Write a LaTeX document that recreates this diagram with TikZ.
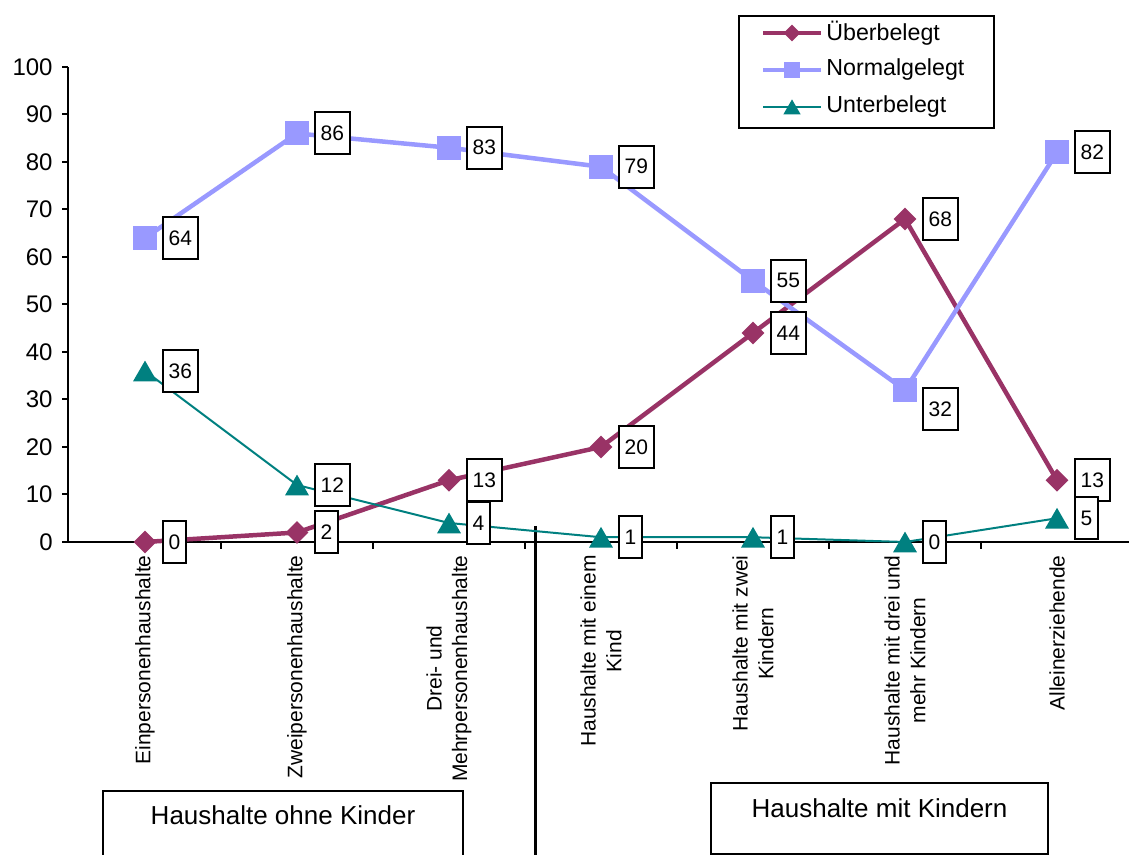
\documentclass[tikz,border=0pt]{standalone}
\usepackage{fontspec}
\setmainfont{Liberation Sans}
\usetikzlibrary{shapes,arrows,positioning,calc}
\definecolor{ueber}{RGB}{153,51,102}
\definecolor{normal}{RGB}{153,153,255}
\definecolor{unter}{RGB}{0,128,128}

\begin{document}
\begin{tikzpicture}[x=0.5pt, y=0.5pt, font=\fontsize{10.5}{12.8}\selectfont,
    achse/.style={line width=1pt},
    ueline/.style={ueber, line width=2.25pt, line join=round},
    noline/.style={normal, line width=2.25pt, line join=round},
    unline/.style={unter, line width=1pt, line join=round},
    uemark/.style={diamond, fill=ueber, inner sep=0pt, minimum width=11.5pt, minimum height=11.5pt},
    nomark/.style={rectangle, fill=normal, inner sep=0pt, minimum size=12pt},
    unmark/.style={regular polygon, regular polygon sides=3, fill=unter, inner sep=0pt, minimum size=13.8pt, yshift=-1.7pt},
    wert/.style={draw, line width=1pt, fill=white, inner xsep=2.8pt, inner ysep=0pt, minimum height=21pt},
    kat/.style={rotate=90, anchor=east, align=center, inner sep=0pt},
    gruppe/.style={draw, line width=1pt, inner ysep=0pt, anchor=north, text depth=18.25pt,
        font=\fontsize{13}{15}\selectfont},
    legtext/.style={inner sep=0pt, font=\fontsize{11.6}{14}\selectfont}]
    \useasboundingbox (0,0) rectangle (1129,855);

    % Achsen
    \draw[achse] (68,313) -- (68,788);
    \draw[achse] (68,313) -- (1129,313);
    \foreach \t [count=\k from 0] in {0,10,...,100} {
        \draw[achse] (62,{313+47.5*\k}) -- (68,{313+47.5*\k});
        \node[anchor=east, inner sep=0pt, font=\fontsize{12}{14}\selectfont] (y\k) at (53,{313+47.5*\k}) {\t};
    }
    \foreach \k in {0,...,5}
        \draw[achse] ({221+152*\k},313) -- ({221+152*\k},306);

    % Kategorien
    \foreach \t [count=\i from 0] in {Einpersonenhaushalte, Zweipersonenhaushalte,
        {Drei- und\\Mehrpersonenhaushalte}, {Haushalte mit einem\\Kind},
        {Haushalte mit zwei\\Kindern}, {Haushalte mit drei und\\mehr Kindern}, Alleinerziehende}
        \node[kat] (kat\i) at ({145+152*\i},300) {\t};

    % Trennlinie und Gruppen
    \draw[line width=1.5pt] (535,329) -- (535,-2);
    \node[gruppe, minimum width=180pt, text height=16.75pt] (ohne) at (283,65) {Haushalte ohne Kinder};
    \node[gruppe, minimum width=168.5pt, text height=17.25pt] (mit) at (879.5,73) {Haushalte mit Kindern};

    % Datenpunkte
    \foreach \w [count=\i from 0] in {0,2,13,20,44,68,13}
        \coordinate (ue\i) at ({145+152*\i},{313+4.75*\w});
    \foreach \w [count=\i from 0] in {64,86,83,79,55,32,82}
        \coordinate (no\i) at ({145+152*\i},{313+4.75*\w});
    \foreach \w [count=\i from 0] in {36,12,4,1,1,0,5}
        \coordinate (un\i) at ({145+152*\i},{313+4.75*\w});

    % Linien und Marker
    \draw[ueline] (ue0) \foreach \i in {1,...,6} { -- (ue\i)};
    \foreach \i in {0,...,6} \node[uemark] (mue\i) at (ue\i) {};
    \draw[noline] (no0) \foreach \i in {1,...,6} { -- (no\i)};
    \foreach \i in {0,...,6} \node[nomark] (mno\i) at (no\i) {};
    \draw[unline] (un0) \foreach \i in {1,...,6} { -- (un\i)};
    \foreach \i in {0,...,6} \node[unmark] (mun\i) at (un\i) {};

    % Beschriftungen
    \foreach \w [count=\i from 0] in {0,2,13,20,44,68,13}
        \node[wert, right=8.5pt of ue\i] (lue\i) {\w};
    \foreach \w/\d [count=\i from 0] in {64/0,86/0,83/0,79/0,55/0,32/-9.5,82/0}
        \node[wert, right=8.5pt of no\i, yshift=\d pt] (lno\i) {\w};
    \foreach \w [count=\i from 0] in {36,12,4,1,1,0,5}
        \node[wert, right=8.5pt of un\i] (lun\i) {\w};

    % Legende
    \node[draw, line width=1pt, anchor=north west, minimum width=127.5pt, minimum height=56pt] (legende) at (738,840) {};
    \coordinate (leg1) at (792,822);
    \coordinate (leg2) at (792,785);
    \coordinate (leg3) at (792,748);
    \draw[ueline] ($(leg1)+(-29,0)$) -- ($(leg1)+(29,0)$);
    \draw[noline] ($(leg2)+(-29,0)$) -- ($(leg2)+(29,0)$);
    \draw[unline] ($(leg3)+(-29,0)$) -- ($(leg3)+(29,0)$);
    \node[uemark, minimum width=8.5pt, minimum height=8.5pt] (lm1) at (leg1) {};
    \node[nomark, minimum size=8pt] (lm2) at (leg2) {};
    \node[unmark, minimum size=10pt, yshift=0.5pt] (lm3) at (leg3) {};
    \node[legtext, right=17pt of leg1] (tue) {Überbelegt};
    \node[legtext, right=17pt of leg2] (tno) {Normalgelegt};
    \node[legtext, right=17pt of leg3] (tun) {Unterbelegt};
\end{tikzpicture}
\end{document}
